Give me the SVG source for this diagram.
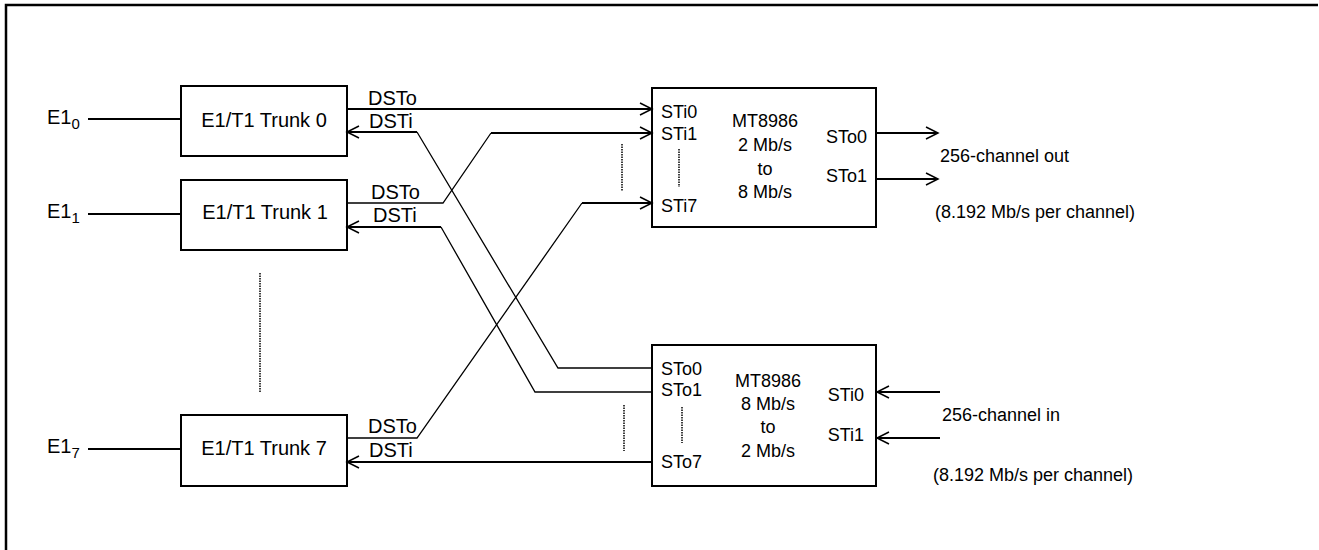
<svg xmlns="http://www.w3.org/2000/svg" width="1319" height="550" viewBox="0 0 1319 550">
<style>
  .box{fill:#fff;stroke:#000;stroke-width:2}
  .ln{fill:none;stroke:#000;stroke-width:2}
  .thin{fill:none;stroke:#000;stroke-width:1.3}
  .dot{fill:none;stroke:#000;stroke-width:1.5;stroke-dasharray:1.5 1}
  .t20{font-family:"Liberation Sans",Arial,sans-serif;font-size:20px;fill:#000}
  .t18{font-family:"Liberation Sans",Arial,sans-serif;font-size:18px;fill:#000}
  .sub{font-size:15px}
  .mid{text-anchor:middle}
  .end{text-anchor:end}
</style>
<defs>
  <marker id="arr" markerUnits="userSpaceOnUse" markerWidth="14" markerHeight="14" refX="12" refY="6" orient="auto" overflow="visible">
    <path d="M0,0 L12,6 L0,12" fill="none" stroke="#000" stroke-width="1.5"/>
  </marker>
</defs>
<rect width="1319" height="550" fill="#fff"/>
<path d="M6,550 V5 H1318" fill="none" stroke="#000" stroke-width="2.5"/>

<g id="trunk0">
  <rect class="box" x="181" y="86" width="166" height="70"/>
  <text class="t20 mid" x="264" y="127">E1/T1 Trunk 0</text>
</g>
<g id="trunk1">
  <rect class="box" x="181" y="180" width="166" height="70"/>
  <text class="t20 mid" x="265" y="219">E1/T1 Trunk 1</text>
</g>
<g id="trunk7">
  <rect class="box" x="181" y="415" width="166" height="71"/>
  <text class="t20 mid" x="264" y="455">E1/T1 Trunk 7</text>
</g>
<g id="e1-0"><text class="t20" x="47" y="124">E1<tspan class="sub" dy="5">0</tspan></text></g>
<g id="e1-1"><text class="t20" x="47" y="218">E1<tspan class="sub" dy="5">1</tspan></text></g>
<g id="e1-7"><text class="t20" x="47" y="453">E1<tspan class="sub" dy="5">7</tspan></text></g>

<g id="mux">
  <rect class="box" x="652" y="88" width="224" height="139"/>
  <text class="t18" x="661" y="118">STi0</text>
  <text class="t18" x="661" y="140">STi1</text>
  <path class="dot" d="M679,149 V187"/>
  <text class="t18" x="661" y="212">STi7</text>
  <text class="t18 mid" x="765" y="127">MT8986</text>
  <text class="t18 mid" x="765" y="151">2 Mb/s</text>
  <text class="t18 mid" x="765" y="175">to</text>
  <text class="t18 mid" x="765" y="198">8 Mb/s</text>
  <text class="t18 end" x="867" y="143">STo0</text>
  <text class="t18 end" x="867" y="182">STo1</text>
</g>
<g id="demux">
  <rect class="box" x="652" y="345" width="224" height="141"/>
  <text class="t18" x="661" y="375">STo0</text>
  <text class="t18" x="661" y="396">STo1</text>
  <path class="dot" d="M682,407 V443"/>
  <text class="t18" x="661" y="468">STo7</text>
  <text class="t18 mid" x="768" y="387">MT8986</text>
  <text class="t18 mid" x="768" y="410">8 Mb/s</text>
  <text class="t18 mid" x="768" y="433">to</text>
  <text class="t18 mid" x="768" y="457">2 Mb/s</text>
  <text class="t18 end" x="864" y="401">STi0</text>
  <text class="t18 end" x="864" y="441">STi1</text>
</g>

<g id="labels">
  <text class="t18" x="940" y="162">256-channel out</text>
  <text class="t18" x="935" y="218">(8.192 Mb/s per channel)</text>
  <text class="t18" x="942" y="421">256-channel in</text>
  <text class="t18" x="933" y="481">(8.192 Mb/s per channel)</text>
  <text class="t20" x="368" y="105">DSTo</text>
  <text class="t20" x="369" y="128">DSTi</text>
  <text class="t20" x="371" y="199">DSTo</text>
  <text class="t20" x="373" y="222">DSTi</text>
  <text class="t20" x="368" y="433">DSTo</text>
  <text class="t20" x="369" y="457">DSTi</text>
  <path class="dot" d="M260,273 V392"/>
  <path class="dot" d="M622,144 V191"/>
  <path class="dot" d="M624,405 V451"/>
</g>

<g id="connectors">
  <path class="ln" d="M88,119 H181"/>
  <path class="ln" d="M88,214 H181"/>
  <path class="ln" d="M88,449 H181"/>
  <path class="ln" d="M347,109 H652" marker-end="url(#arr)"/>
  <path class="thin" d="M652,368 H558 L417,132"/>
  <path class="ln" d="M417,132 H347" marker-end="url(#arr)"/>
  <path class="thin" d="M347,203 H443 L491,133"/>
  <path class="ln" d="M491,133 H652" marker-end="url(#arr)"/>
  <path class="thin" d="M652,392 H535 L441,227"/>
  <path class="ln" d="M441,227 H347" marker-end="url(#arr)"/>
  <path class="thin" d="M347,438 H417 L582,203"/>
  <path class="ln" d="M582,203 H652" marker-end="url(#arr)"/>
  <path class="ln" d="M652,462 H347" marker-end="url(#arr)"/>
  <path class="ln" d="M876,133 H938" marker-end="url(#arr)"/>
  <path class="ln" d="M876,179 H938" marker-end="url(#arr)"/>
  <path class="ln" d="M940,392 H877" marker-end="url(#arr)"/>
  <path class="ln" d="M940,438 H877" marker-end="url(#arr)"/>
</g>
</svg>
